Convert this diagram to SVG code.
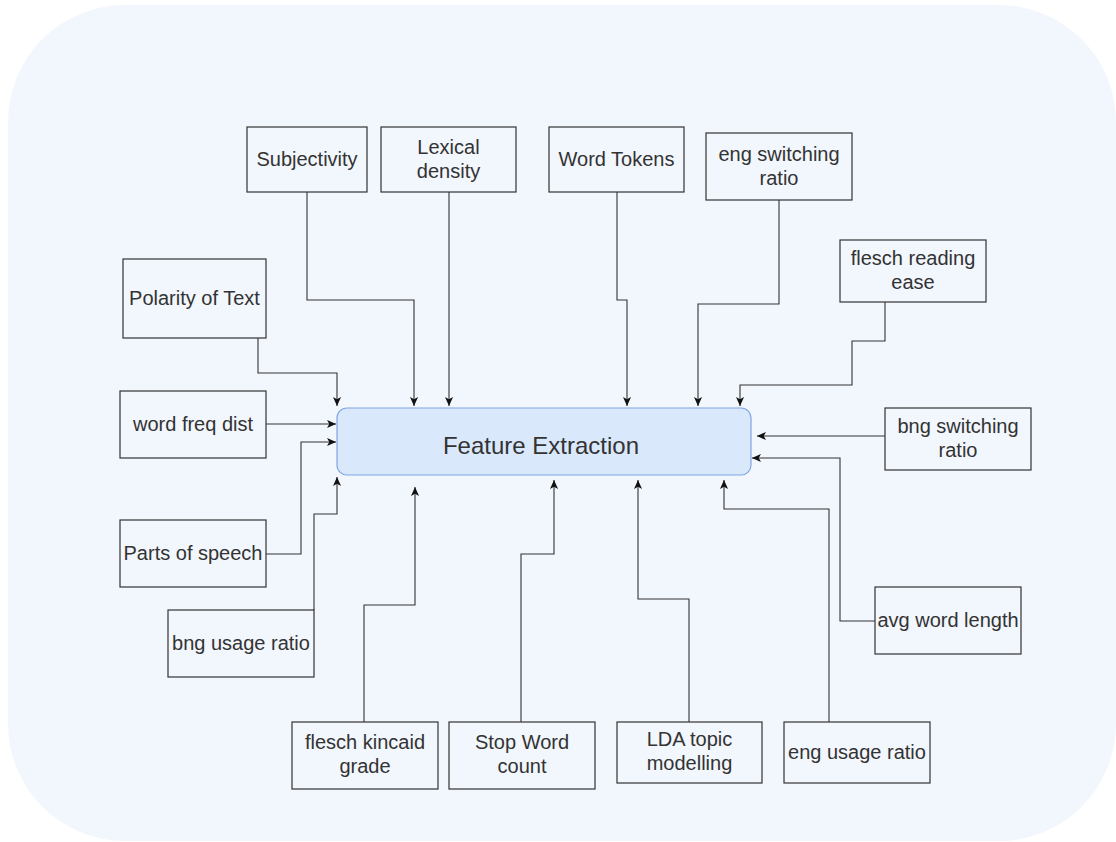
<svg xmlns="http://www.w3.org/2000/svg" width="1116" height="842" viewBox="0 0 1116 842">
  <style>
    .box { fill: none; stroke: #333333; stroke-width: 1.2; }
    .lbl { font-family: "Liberation Sans", Arial, sans-serif; font-size: 20px; fill: #333333; text-anchor: middle; }
    .main { font-family: "Liberation Sans", Arial, sans-serif; font-size: 24px; fill: #333333; text-anchor: middle; }
    .edge { fill: none; stroke: #333333; stroke-width: 1.1; marker-end: url(#arrow); }
  </style>
  <defs>
    <marker id="arrow" viewBox="0 0 10 10" refX="10" refY="5" markerWidth="9" markerHeight="9" markerUnits="userSpaceOnUse" orient="auto">
      <path d="M0,0.5 L10,5 L0,9.5 L2.5,5 Z" fill="#111111"/>
    </marker>
  </defs>

  <!-- page background panel -->
  <rect x="8" y="5" width="1108" height="836" rx="117" ry="117" fill="#f2f6fd"/>

  <!-- central node -->
  <g id="feature-extraction">
    <rect x="337" y="408" width="414" height="67" rx="10" ry="10" fill="#dae8fc" stroke="#7ea6e0" stroke-width="1.2"/>
    <text class="main" x="541" y="454">Feature Extraction</text>
  </g>

  <!-- feature nodes -->
  <g id="subjectivity">
    <rect class="box" x="247" y="127" width="120" height="65"/>
    <text class="lbl" x="307" y="166">Subjectivity</text>
  </g>
  <g id="lexical-density">
    <rect class="box" x="381" y="127" width="135" height="65"/>
    <text class="lbl" x="448.5" y="154">Lexical</text>
    <text class="lbl" x="448.5" y="178">density</text>
  </g>
  <g id="word-tokens">
    <rect class="box" x="549" y="127" width="135" height="65"/>
    <text class="lbl" x="616.5" y="166">Word Tokens</text>
  </g>
  <g id="eng-switching-ratio">
    <rect class="box" x="706" y="133" width="146" height="67"/>
    <text class="lbl" x="779" y="161">eng switching</text>
    <text class="lbl" x="779" y="185">ratio</text>
  </g>
  <g id="flesch-reading-ease">
    <rect class="box" x="840" y="240" width="146" height="62"/>
    <text class="lbl" x="913" y="265">flesch reading</text>
    <text class="lbl" x="913" y="289">ease</text>
  </g>
  <g id="polarity-of-text">
    <rect class="box" x="123" y="259" width="143" height="79"/>
    <text class="lbl" x="194.5" y="305">Polarity of Text</text>
  </g>
  <g id="word-freq-dist">
    <rect class="box" x="120" y="391" width="146" height="67"/>
    <text class="lbl" x="193" y="431">word freq dist</text>
  </g>
  <g id="parts-of-speech">
    <rect class="box" x="120" y="520" width="146" height="67"/>
    <text class="lbl" x="193" y="560">Parts of speech</text>
  </g>
  <g id="bng-usage-ratio">
    <rect class="box" x="168" y="610" width="146" height="67"/>
    <text class="lbl" x="241" y="650">bng usage ratio</text>
  </g>
  <g id="flesch-kincaid-grade">
    <rect class="box" x="292" y="722" width="146" height="67"/>
    <text class="lbl" x="365" y="749">flesch kincaid</text>
    <text class="lbl" x="365" y="773">grade</text>
  </g>
  <g id="stop-word-count">
    <rect class="box" x="449" y="722" width="146" height="67"/>
    <text class="lbl" x="522" y="749">Stop Word</text>
    <text class="lbl" x="522" y="773">count</text>
  </g>
  <g id="lda-topic-modelling">
    <rect class="box" x="617" y="722" width="145" height="61"/>
    <text class="lbl" x="689.5" y="746">LDA topic</text>
    <text class="lbl" x="689.5" y="770">modelling</text>
  </g>
  <g id="eng-usage-ratio">
    <rect class="box" x="784" y="722" width="146" height="61"/>
    <text class="lbl" x="857" y="759">eng usage ratio</text>
  </g>
  <g id="bng-switching-ratio">
    <rect class="box" x="885" y="408" width="146" height="62"/>
    <text class="lbl" x="958" y="433">bng switching</text>
    <text class="lbl" x="958" y="457">ratio</text>
  </g>
  <g id="avg-word-length">
    <rect class="box" x="875" y="587" width="146" height="67"/>
    <text class="lbl" x="948" y="627">avg word length</text>
  </g>

  <!-- connectors into Feature Extraction -->
  <g id="connectors">
    <path class="edge" d="M258,338 V373 H337 V406"/>
    <path class="edge" d="M307,192 V300 H414 V406"/>
    <path class="edge" d="M449,192 V406"/>
    <path class="edge" d="M617,192 V300 H627 V406"/>
    <path class="edge" d="M779,200 V304 H698 V406"/>
    <path class="edge" d="M885,302 V341 H852 V385 H740 V406"/>
    <path class="edge" d="M266,424 H336"/>
    <path class="edge" d="M266,554 H301 V442 H336"/>
    <path class="edge" d="M314,610 V514 H337 V477"/>
    <path class="edge" d="M364,722 V605 H415 V487"/>
    <path class="edge" d="M521,722 V554 H554 V480"/>
    <path class="edge" d="M689,722 V599 H638 V480"/>
    <path class="edge" d="M829,722 V509 H724 V480"/>
    <path class="edge" d="M875,621 H840 V458 H752"/>
    <path class="edge" d="M885,436 H757"/>
  </g>
</svg>
